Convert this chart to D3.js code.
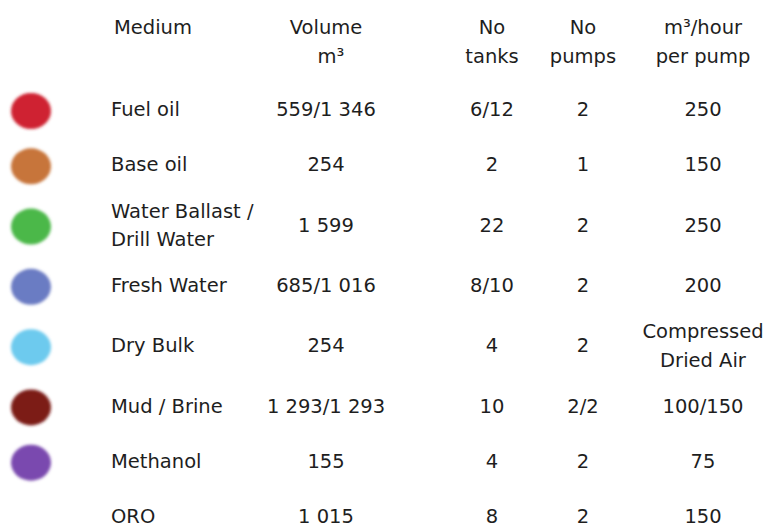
<!DOCTYPE html>
<html>
<head>
<meta charset="utf-8">
<script src="https://cdn.jsdelivr.net/npm/d3@7"></script>
<style>
  body { margin: 0; background: #fff; }
  svg text { font-family: "DejaVu Sans", Verdana, sans-serif; font-size: 19.5px; fill: #1e1e1e; }
</style>
</head>
<body>
<svg width="773" height="527"></svg>
<script>
// table content
var headers = ['Medium', 'Volume\nm³', 'No\ntanks', 'No\npumps', 'm³/hour\nper pump'];
var media = ['Fuel oil', 'Base oil', 'Water Ballast /\nDrill Water', 'Fresh Water', 'Dry Bulk', 'Mud / Brine', 'Methanol', 'ORO'];
var volumes = ['559/1 346', '254', '1 599', '685/1 016', '254', '1 293/1 293', '155', '1 015'];
var tanks = ['6/12', '2', '22', '8/10', '4', '10', '4', '8'];
var pumps = ['2', '1', '2', '2', '2', '2/2', '2', '2'];
var rates = ['250', '150', '250', '200', 'Compressed\nDried Air', '100/150', '75', '150'];
var dotColors = ['#cf2331', '#c7743a', '#4cb848', '#6b7bc3', '#6dcaee', '#7b1c15', '#7a4aaf', null];

var svg = d3.select('svg');

// blurry dot edges
svg.append('defs').append('filter')
    .attr('id', 'soft')
    .append('feGaussianBlur')
    .attr('stdDeviation', 1.6);

// 0. layout scales
// ----------------------------------
var cols = ['medium', 'volume', 'tanks', 'pumps', 'rate'];
var x = d3.scaleOrdinal().domain(cols).range([111, 326, 492, 583, 703]);
var anchor = d3.scaleOrdinal().domain(cols).range(['start', 'middle', 'middle', 'middle', 'middle']);

// row centres: two-line rows take a bit more room
var lineCount = media.map((m, i) => Math.max(m.split('\n').length, rates[i].split('\n').length));
var rowH = lineCount.map(n => 55 + 10 * (n - 1));
var centres = [];
rowH.reduce((acc, h) => { centres.push(acc + h / 2); return acc + h; }, 0);
var y = d3.scaleLinear()
    .domain([centres[0], centres[centres.length - 1]])
    .range([109, 516]);

var lineGap = 28.5;
var capHalf = 7.2; // half cap height, to centre text on row

function multiline(sel, txt) {
    var parts = txt.split('\n');
    var x0 = sel.attr('x');
    sel.selectAll('tspan')
        .data(parts)
        .join('tspan')
        .attr('x', x0)
        .attr('dy', (d, i) => i === 0 ? -(parts.length - 1) * lineGap / 2 : lineGap)
        .text(d => d);
}

// 1. header
// ----------------------------------
svg.append('g').classed('header', true)
    .selectAll('text')
    .data(headers)
    .join('text')
    .attr('x', (d, i) => x(cols[i]) + (i === 0 ? 3 : 0))
    .attr('y', 34)
    .attr('text-anchor', (d, i) => anchor(cols[i]))
    .each(function(d, i) {
        var t = d3.select(this);
        d.split('\n').forEach((p, j) => {
            t.append('tspan')
                .attr('x', +t.attr('x') + (i === 1 && j === 1 ? 5 : 0))
                .attr('dy', j === 0 ? 0 : 29)
                .text(p);
        });
    });

// 2. dots
// ----------------------------------
svg.append('g').classed('dots', true)
    .selectAll('ellipse')
    .data(dotColors.map((c, i) => ({c: c, i: i})).filter(d => d.c))
    .join('ellipse')
    .attr('cx', 31)
    .attr('cy', d => y(centres[d.i]) + 2)
    .attr('rx', 20)
    .attr('ry', 18)
    .attr('fill', d => d.c)
    .attr('filter', 'url(#soft)');

// 3. cells
// ----------------------------------
var columns = [media, volumes, tanks, pumps, rates];
var body = svg.append('g').classed('body', true);
columns.forEach((vals, c) => {
    body.append('g')
        .selectAll('text')
        .data(vals)
        .join('text')
        .attr('x', x(cols[c]))
        .attr('y', (d, i) => y(centres[i]) + capHalf)
        .attr('text-anchor', anchor(cols[c]))
        .each(function(d) { multiline(d3.select(this), d); });
});
</script>
</body>
</html>
